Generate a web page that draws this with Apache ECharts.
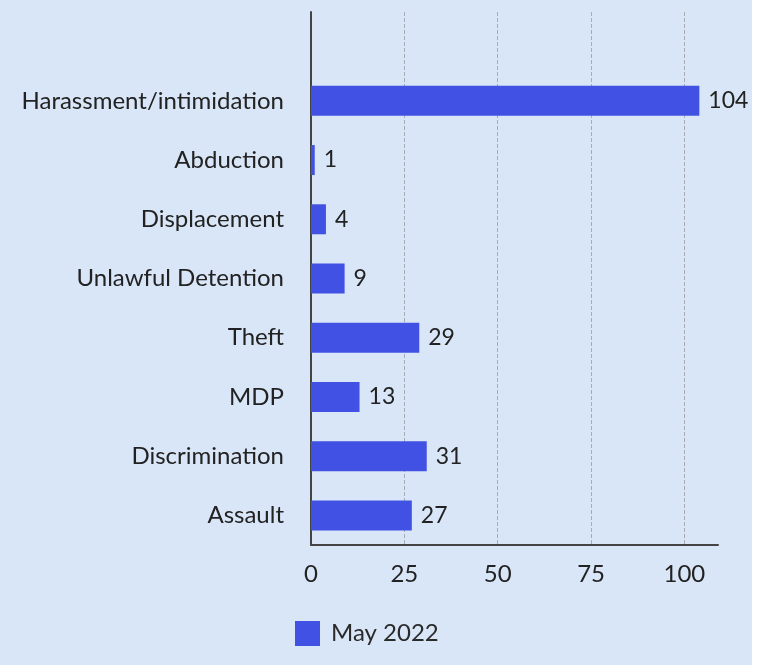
<!DOCTYPE html>
<html>
<head>
<meta charset="utf-8">
<script src="https://cdn.jsdelivr.net/npm/echarts@6/dist/echarts.min.js"></script>
<style>
html,body{margin:0;padding:0;background:#ffffff;}
#chart{width:752px;height:665px;background:#d9e6f7;}
</style>
</head>
<body>
<div id="chart"></div>
<script>
// Categories bottom-to-top (ECharts category yAxis goes from bottom); top slot left empty
var categories = ['Assault', 'Discrimination', 'MDP', 'Theft', 'Unlawful Detention', 'Displacement', 'Abduction', 'Harassment/intimidation', ''];
var values = [27, 31, 13, 29, 9, 4, 1, 104, null];
var seriesName = 'May 2022';

var chart = echarts.init(document.getElementById('chart'));
var font = 'Lato, "Noto Sans", sans-serif';
chart.setOption({
  backgroundColor: '#d9e6f7',
  animation: false,
  textStyle: { fontFamily: font },
  grid: { left: 311, right: 34, top: 12, bottom: 120, containLabel: false },
  legend: {
    data: [seriesName],
    left: 295, top: 621, padding: 0,
    itemWidth: 25, itemHeight: 25, itemGap: 10,
    icon: 'rect',
    textStyle: { fontFamily: font, fontSize: 24, color: '#2a2a2a', padding: [0, 0, 0, 6] }
  },
  xAxis: {
    type: 'value',
    min: 0, max: 109, interval: 25,
    axisLine: { show: true, lineStyle: { color: '#444', width: 2 } },
    axisTick: { show: false },
    axisLabel: { showMaxLabel: false, fontSize: 24, color: '#222', margin: 17, fontFamily: font },
    splitLine: { show: true, showMinLine: false, showMaxLine: false, lineStyle: { type: 'dashed', color: '#a8adb5', width: 1 } }
  },
  yAxis: {
    type: 'category',
    data: categories,
    axisLine: { show: true, lineStyle: { color: '#444', width: 2 } },
    axisTick: { show: false },
    axisLabel: { fontSize: 24, color: '#222', margin: 27, fontFamily: font },
    splitLine: { show: false }
  },
  series: [{
    name: seriesName,
    type: 'bar',
    data: values,
    barWidth: 30,
    itemStyle: { color: '#4151e4' },
    label: { show: true, position: 'right', distance: 9, fontSize: 23, color: '#222', fontFamily: font }
  }]
});
</script>
</body>
</html>
